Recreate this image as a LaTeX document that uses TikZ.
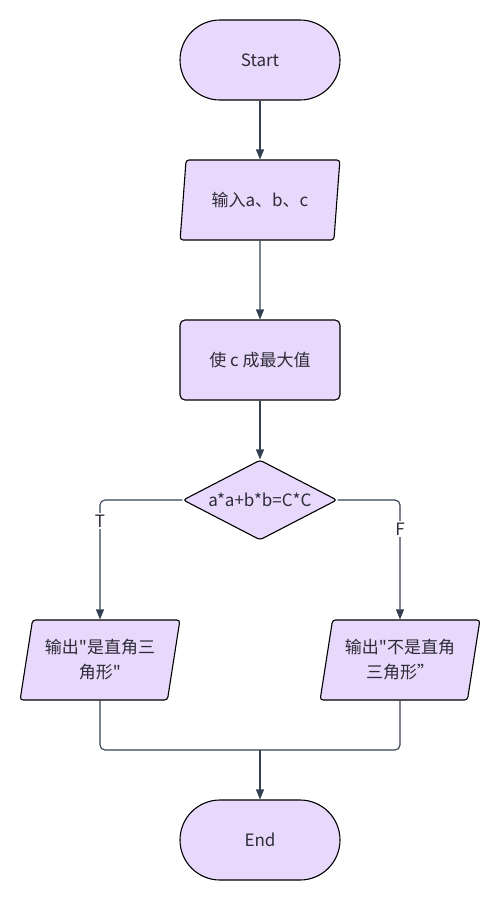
\documentclass[tikz,border=0pt]{standalone}
\usepackage{fontspec}
\setmainfont{Noto Sans CJK SC}[Ligatures=TeXOff]
\usetikzlibrary{shapes.geometric,arrows.meta}
\definecolor{boxfill}{RGB}{232,216,252}
\definecolor{linkcol}{RGB}{52,64,82}
\definecolor{txtcol}{RGB}{45,45,55}
\tikzset{
  base/.style={draw=black,line width=1.1pt,fill=boxfill,text=txtcol,
    font=\fontsize{17}{25}\selectfont,align=center,inner sep=0pt},
  terminal/.style={base,rectangle,rounded corners=40pt,minimum width=160pt,minimum height=80pt},
  process/.style={base,rectangle,rounded corners=5pt,minimum width=160pt,minimum height=80pt},
  io/.style={base,trapezium,trapezium left angle=76,trapezium right angle=104,
    trapezium stretches=true,rounded corners=3pt,minimum width=160pt,minimum height=80pt},
  decision/.style={base,diamond,aspect=2,rounded corners=3pt,minimum width=154pt,minimum height=80pt},
  link/.style={draw=linkcol,line width=1.1pt,-{Triangle[length=10pt,width=8pt]}},
  joint/.style={draw=linkcol,line width=1.1pt,rounded corners=5pt},
  branch/.style={fill=white,text=txtcol,font=\fontsize{17}{20}\selectfont,inner sep=2pt}
}
\begin{document}
\begin{tikzpicture}[x=1pt,y=-1pt]
    \useasboundingbox (0,0) rectangle (500,900);
    % main column ===========================================
    \node[terminal] (start) at (260,60)  {Start};
    \node[io]       (input) at (260,200) {输入a、b、c};
    \node[process]  (maxc)  at (260,360) {使 c 成最大值};
    \node[decision] (check) at (260,500) {a*a+b*b=C*C};
    % outputs ===============================================
    \node[io]       (yes)   at (100,660) {输出"是直角三\\角形"};
    \node[io]       (no)    at (400,660) {输出"不是直角\\三角形”};
    \node[terminal] (stop)  at (260,840) {End};
    \coordinate     (join)  at (260,750);
    % connectors ============================================
    \draw[link] (start) -- (input);
    \draw[link] (input) -- (maxc);
    \draw[link] (maxc) -- (check);
    \draw[link,rounded corners=5pt] (check.west) -| (yes.north);
    \draw[link,rounded corners=5pt] (check.east) -| (no.north);
    \draw[joint] (yes.south) |- (join) -| (no.south);
    \draw[link] (join) -- (stop);
    \node[branch] (t) at (100,521) {T};
    \node[branch] (f) at (400,529) {F};
\end{tikzpicture}
\end{document}
